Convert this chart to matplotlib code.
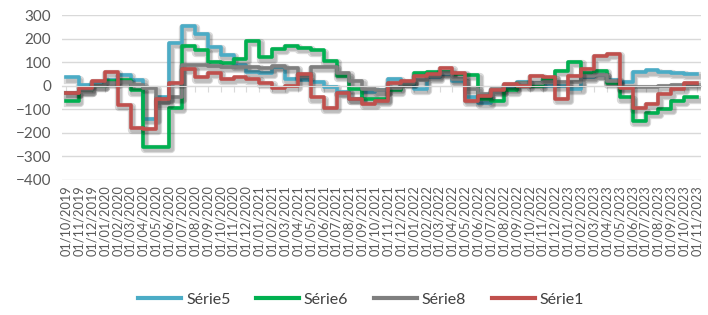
import matplotlib
matplotlib.use("Agg")
import matplotlib.pyplot as plt
import matplotlib.patheffects as pe
from matplotlib.lines import Line2D
import numpy as np

# monthly category labels 01/10/2019 .. 01/11/2023
months = []
for k in range(50):
    m = (10 + k - 1) % 12 + 1
    y = 2019 + (10 + k - 1) // 12
    months.append("01/%02d/%d" % (m, y))

serie5 = [35, 5, 15, 25, 45, 25, -140, -50, 180, 255,
          220, 165, 130, 90, 60, 55, 80, 30, 25, 15,
          -5, -25, -55, -25, -20, 30, 15, -15, 35, 50,
          20, -50, -75, -20, -10, 15, 10, 0, 0, -13,
          35, 45, 25, 15, 60, 65, 60, 55, 50, 50]
serie6 = [-65, -20, 0, 20, 25, -20, -262, -262, -93, 170,
          150, 100, 95, 115, 190, 120, 157, 170, 160, 150,
          105, 42, -12, -55, -55, -20, 10, 55, 60, 60,
          50, 45, -55, -63, -20, 10, 0, 30, 63, 100,
          55, 63, 13, -50, -148, -115, -100, -63, -50, -50]
serie8 = [-30, -20, 0, 10, 15, 5, -10, -75, -50, 90,
          90, 85, 80, 80, 80, 75, 85, 75, 40, 80,
          80, 55, 20, -12, -20, -10, 10, 25, 40, 55,
          30, -15, -35, -15, 5, 10, 10, 15, 15, 15,
          40, 45, 20, -5, -5, -5, 0, 5, 5, 5]
serie1 = [-30, -10, 20, 60, -80, -180, -185, -55, 10, 72,
          35, 55, 30, 35, 30, 13, -8, 0, 50, -50,
          -93, -30, -55, -76, -63, 13, 20, 42, 50, 75,
          55, -63, -42, -20, 8, 0, 42, 35, -55, 42,
          72, 127, 135, -8, -93, -76, -35, -13, 13, 13]

names = ["Série5", "Série6", "Série8", "Série1"]
colors = ["#4BACC6", "#00B050", "#7F7F7F", "#C0504D"]

plt.rcParams['font.family'] = ['Lato', 'DejaVu Sans']

fig = plt.figure(figsize=(7.08, 3.15), dpi=100)
ax = fig.add_axes([0.088, 0.429, 0.902, 0.523])

x = np.arange(len(months))
shadow = [pe.SimpleLineShadow(offset=(1, -1.5), shadow_color='black', alpha=0.15, linewidth=6),
          pe.SimpleLineShadow(offset=(1, -1.5), shadow_color='black', alpha=0.12, linewidth=3.5),
          pe.Normal()]
for vals, c in zip([serie5, serie6, serie8, serie1], colors):
    ax.plot(x, vals, drawstyle='steps-post', color=c, lw=2.6,
            solid_joinstyle='round', path_effects=shadow)

ax.set_ylim(-400, 300)
ax.set_yticks(range(-400, 301, 100))
ax.set_xlim(-0.3, 49.3)
ax.grid(axis='y', color='#D9D9D9', lw=1)
ax.set_axisbelow(True)
for s in ['top', 'right', 'left']:
    ax.spines[s].set_visible(False)
ax.spines['bottom'].set_position(('data', 0))
ax.spines['bottom'].set_color('#D9D9D9')
ax.set_xticks(x)
ax.tick_params(axis='x', length=4, color='#D9D9D9', labelbottom=False)
ax.tick_params(axis='y', length=0, labelsize=11, labelcolor='#595959', pad=8)

sec = ax.secondary_xaxis('bottom')
sec.set_xticks(x)
sec.set_xticklabels(months, rotation=90)
sec.tick_params(length=0, labelsize=9.2, labelcolor='#595959', pad=4)
sec.spines['bottom'].set_visible(False)

handles = [Line2D([], [], color=c, lw=3) for c in colors]
fig.legend(handles, names, loc='center', bbox_to_anchor=(0.51, 0.048), ncol=4,
           frameon=False, fontsize=11.5, handlelength=2.7, columnspacing=1.6,
           handletextpad=0.3, labelcolor='#404040')

plt.savefig("out.png", dpi=100)
